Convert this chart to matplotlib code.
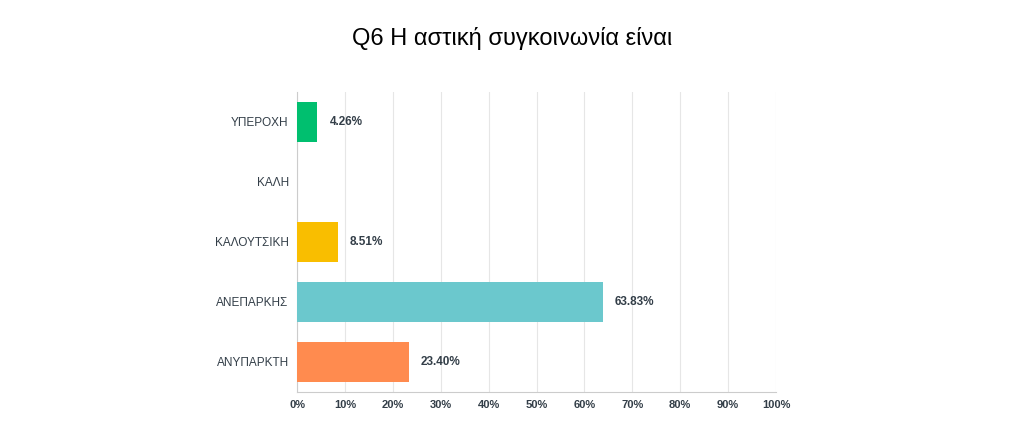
import matplotlib
matplotlib.use("Agg")
import matplotlib.pyplot as plt

categories = ["ΥΠΕΡΟΧΗ", "ΚΑΛΗ", "ΚΑΛΟΥΤΣΙΚΗ", "ΑΝΕΠΑΡΚΗΣ", "ΑΝΥΠΑΡΚΤΗ"]
values = [4.26, 0.0, 8.51, 63.83, 23.40]
colors = ["#00BF6F", "#00BF6F", "#F9BE00", "#6BC8CD", "#FF8B4F"]
ticks = list(range(0, 101, 10))
tick_labels = [f"{t}%" for t in ticks]

plt.rcParams['font.family'] = ['Liberation Sans', 'DejaVu Sans']
fig = plt.figure(figsize=(10.24, 4.45), dpi=100)
ax = fig.add_axes([297/1024, 1-392/445, 479/1024, 300/445])
y = list(range(len(categories)))
ax.barh(y, values, height=0.667, color=colors, zorder=3)
for yi, v in zip(y, values):
    if v > 0:
        ax.text(v + 2.5, yi, f"{v:.2f}%", va="center", ha="left",
                fontsize=8.5, fontweight="bold", color="#333e48")
ax.set_ylim(4.5, -0.5)
ax.set_xlim(0, 100)
ax.set_yticks(y)
ax.set_yticklabels(categories, fontsize=8.5, color="#333e48")
ax.set_xticks(ticks)
ax.set_xticklabels(tick_labels, fontsize=8, fontweight="bold", color="#333e48")
ax.grid(axis="x", color="#e6e6e6", linewidth=0.8, zorder=0)
for s in ["top", "right"]:
    ax.spines[s].set_visible(False)
ax.spines["left"].set_color("#cccccc")
ax.spines["bottom"].set_color("#cccccc")
ax.tick_params(length=0, pad=6)
fig.text(0.5, 1-38/445, "Q6 Η αστική συγκοινωνία είναι", ha="center", va="center",
         fontsize=17, color="#000000")
fig.savefig("out.png", dpi=100)
